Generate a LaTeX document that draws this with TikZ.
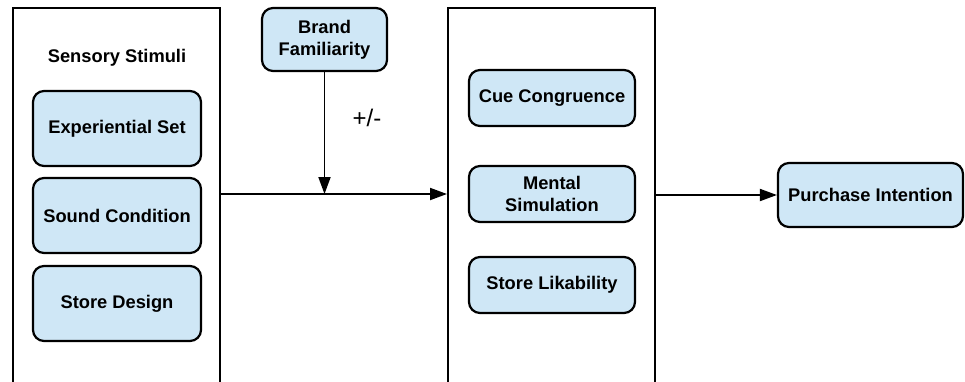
\documentclass[tikz,border=0pt]{standalone}
\usepackage{fontspec}
\setmainfont{Liberation Sans}
\usetikzlibrary{arrows.meta,positioning}
\definecolor{boxblue}{RGB}{207,231,246}
\tikzset{
  item/.style={draw=black, line width=2.2pt, fill=boxblue, rounded corners=11pt,
    align=center, font=\fontsize{18.3}{22}\selectfont\bfseries, inner sep=2pt},
  frame/.style={draw=black, line width=2pt, fill=white, inner sep=0pt},
  conn/.style={line width=1.9pt, -{Triangle[length=17pt,width=12pt]}},
}
\begin{document}
\begin{tikzpicture}[x=1pt,y=-1pt]
\path[use as bounding box, clip] (0,0) rectangle (965,381);
\fill[white] (0,0) rectangle (965,381);
% big frames
\node[frame, minimum width=207pt, minimum height=386pt] (L) at (116.5,201) {};
\node[frame, minimum width=207pt, minimum height=386pt] (M) at (551.5,201) {};
% left contents
\node[font=\fontsize{18.3}{22}\selectfont\bfseries] (ss) at (117,58) {Sensory Stimuli};
\node[item, minimum width=168pt, minimum height=75pt] (es) at (117,128.5) {Experiential Set};
\node[item, minimum width=168pt, minimum height=75pt] (sc) at (117,215.5) {Sound Condition};
\node[item, minimum width=168pt, minimum height=75pt] (sd) at (117,303.5) {Store Design};
% brand familiarity
\node[item, minimum width=125pt, minimum height=63pt] (bf) at (324.5,39.5) {Brand\\Familiarity};
% middle contents
\node[item, minimum width=166pt, minimum height=56pt] (cc) at (552,98) {Cue Congruence};
\node[item, minimum width=166pt, minimum height=56pt] (ms) at (552,194) {Mental\\Simulation};
\node[item, minimum width=166pt, minimum height=56pt] (sl) at (552,285) {Store Likability};
% purchase intention
\node[item, minimum width=185pt, minimum height=64pt] (pi) at (870.5,195) {Purchase Intention};
% connectors
\coordinate (lo) at (L.east |- ms);
\coordinate (mi) at (M.west |- ms);
\coordinate (jn) at (bf.south |- ms);
\draw[conn] (lo) -- (mi);
\draw[conn] (bf.south) -- (jn);
\node[font=\fontsize{24}{26}\selectfont] (pm) at (367,118) {+/-};
\draw[conn] (M.east |- pi.west) -- (pi.west);
\end{tikzpicture}
\end{document}
